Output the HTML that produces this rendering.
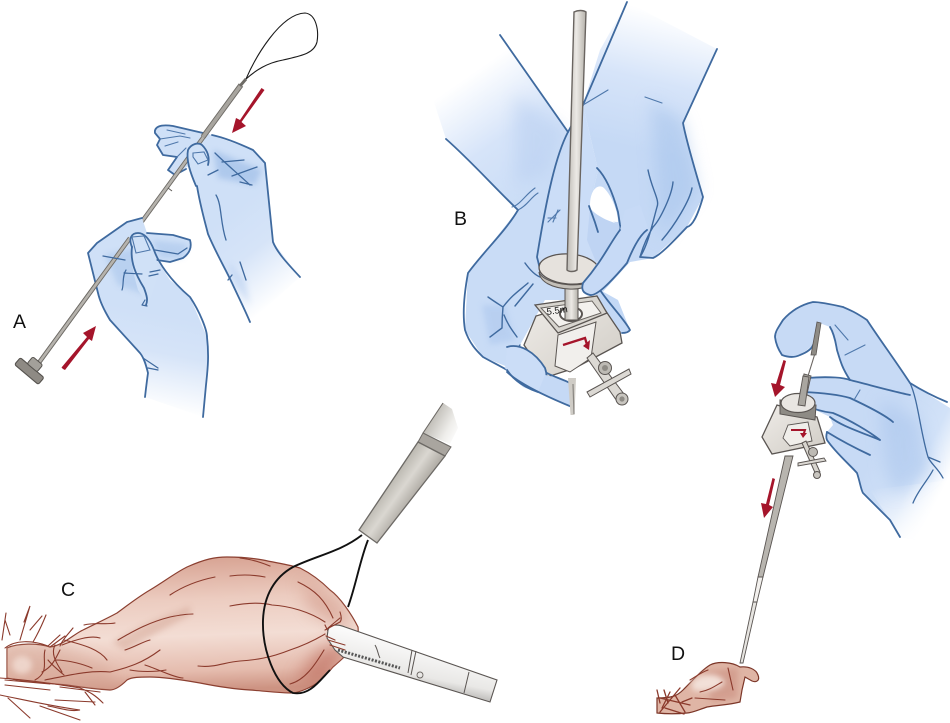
<!DOCTYPE html>
<html><head><meta charset="utf-8"><style>
html,body{margin:0;padding:0;background:#fff;width:950px;height:723px;overflow:hidden}
svg{display:block}
text{font-family:"Liberation Sans",sans-serif;font-size:19.5px;fill:#111}
.h{stroke:#3f6a9f;stroke-width:1.8;fill:none;stroke-linecap:round;stroke-linejoin:round}
.t{stroke:#4f78ab;stroke-width:1.1;fill:none;stroke-linecap:round}
.v{stroke:#8b3a2c;stroke-width:1.1;fill:none;stroke-linecap:round}
.w{stroke:#111;stroke-width:1.9;fill:none}
</style></head><body>
<svg width="950" height="723" viewBox="0 0 950 723" xmlns="http://www.w3.org/2000/svg">
<defs>
<filter id="b3" x="-30%" y="-30%" width="160%" height="160%"><feGaussianBlur stdDeviation="3"/></filter>
<filter id="b8" x="-40%" y="-40%" width="180%" height="180%"><feGaussianBlur stdDeviation="8"/></filter>
<linearGradient id="ga1" gradientUnits="userSpaceOnUse" x1="215" y1="225" x2="275" y2="302"><stop offset="0" stop-color="#cfe0f7"/><stop offset=".45" stop-color="#d6e4f8"/><stop offset="1" stop-color="#fff"/></linearGradient>
<linearGradient id="ga2" gradientUnits="userSpaceOnUse" x1="190" y1="320" x2="172" y2="412"><stop offset="0" stop-color="#cfe0f7"/><stop offset=".4" stop-color="#d6e4f8"/><stop offset="1" stop-color="#fff"/></linearGradient>
<linearGradient id="gb1" gradientUnits="userSpaceOnUse" x1="550" y1="190" x2="470" y2="75"><stop offset="0" stop-color="#c9dcf6"/><stop offset=".5" stop-color="#d6e4f9"/><stop offset="1" stop-color="#fff"/></linearGradient>
<linearGradient id="gb2" gradientUnits="userSpaceOnUse" x1="640" y1="150" x2="672" y2="15"><stop offset="0" stop-color="#c5d9f5"/><stop offset=".5" stop-color="#d6e4f9"/><stop offset="1" stop-color="#fff"/></linearGradient>
<linearGradient id="gd" gradientUnits="userSpaceOnUse" x1="880" y1="440" x2="950" y2="475"><stop offset="0" stop-color="#c7daf5"/><stop offset=".6" stop-color="#d2e2f8"/><stop offset="1" stop-color="#fff"/></linearGradient>
<linearGradient id="gd2" gradientUnits="userSpaceOnUse" x1="890" y1="480" x2="920" y2="540"><stop offset="0" stop-color="#fff" stop-opacity="0"/><stop offset="1" stop-color="#fff"/></linearGradient>
<linearGradient id="gc" gradientUnits="userSpaceOnUse" x1="200" y1="560" x2="205" y2="690"><stop offset="0" stop-color="#d9a696"/><stop offset=".3" stop-color="#ecccc0"/><stop offset=".58" stop-color="#f3ddd4"/><stop offset=".85" stop-color="#e5bcae"/><stop offset="1" stop-color="#cd9382"/></linearGradient>
<linearGradient id="gi" gradientUnits="userSpaceOnUse" x1="380" y1="490" x2="408" y2="510"><stop offset="0" stop-color="#b4b1a9"/><stop offset=".5" stop-color="#dad7d1"/><stop offset="1" stop-color="#aaa69f"/></linearGradient>
<linearGradient id="gi2" gradientUnits="userSpaceOnUse" x1="425" y1="420" x2="458" y2="438"><stop offset="0" stop-color="#b4b1aa"/><stop offset=".65" stop-color="#eeedea"/><stop offset="1" stop-color="#fff"/></linearGradient>
<linearGradient id="gm" x1="0" y1="0" x2="1" y2="0"><stop offset="0" stop-color="#bdbab4"/><stop offset=".5" stop-color="#ece9e5"/><stop offset="1" stop-color="#b5b2ab"/></linearGradient>
<linearGradient id="gg" gradientUnits="userSpaceOnUse" x1="410" y1="640" x2="400" y2="690"><stop offset="0" stop-color="#fcfcfc"/><stop offset=".65" stop-color="#e9e8e6"/><stop offset="1" stop-color="#a9a7a4"/></linearGradient>
<linearGradient id="gbox" x1="0" y1="0" x2="1" y2="1"><stop offset="0" stop-color="#efecE8"/><stop offset="1" stop-color="#d0ccc5"/></linearGradient>
<clipPath id="cc"><path d="M7 648C18 643 38 643 50 647C62 646 74 634 83 630C95 624 108 618 117 613C128 605 138 597 150 590C165 581 175 573 187 567C205 559 215 557 227 557C240 557 252 558 263 560C277 563 290 565 300 568C312 574 322 582 330 590C340 597 352 615 358 627C359 636 356 642 353 647C347 655 340 661 333 667C328 673 322 679 317 683C310 688 300 692 293 693C278 693 265 691 250 690C232 689 215 686 200 683C183 680 165 677 150 677C140 677 132 677 127 680C122 685 116 690 110 690C95 689 80 687 67 685C55 684 45 683 33 682C25 681 15 680 7 678Z"/></clipPath>
<clipPath id="ca1"><path d="M273 242L265 163 253 150 203 133 195 150 197 187 207 233 230 280 273 260Z"/></clipPath>
<clipPath id="ca2"><path d="M110 320L98 293 88 253 97 243 127 222 142 218 157 260 170 280 150 310Z"/></clipPath>
</defs>
<rect width="950" height="723" fill="#fff"/>

<!-- PANEL A : upper hand -->
<path d="M300 277L273 242 265 163 253 150 203 132 173 126C160 124 154 127 155 133L160 139 157 145 163 155 177 157 168 170 175 175 190 165 197 187 207 233 230 280 250 322Z" fill="url(#ga1)"/>
<g clip-path="url(#ca1)"><path d="M213 150L262 170 255 185 218 178Z" fill="#94b6e4" opacity=".55" filter="url(#b3)"/></g>
<path d="M228 262L245 280 250 305 235 285Z" fill="#a8c4ec" opacity=".4" filter="url(#b3)"/>
<path class="h" d="M300 277C286 262 277 252 273 242L265 163 253 150C240 144 226 138 212 135"/>
<path class="h" d="M203 133L173 126C160 124 154 127 155 133L160 139 157 145 163 155 177 157 168 170 175 175 186 169"/>
<path class="t" d="M160 139L180 136 190 138M167 130L185 134M165 146L178 142M177 157L186 148"/>
<!-- rod A -->
<path d="M38 364L205 135" stroke="#6e6b66" stroke-width="4.400" fill="none"/>
<path d="M38 364L205 135" stroke="#b6b3ad" stroke-width="2.600" fill="none"/>
<path d="M203 137L241 85" stroke="#6e6b66" stroke-width="5.400" fill="none"/>
<path d="M203 137L241 85" stroke="#a8a59f" stroke-width="3.600" fill="none"/>
<path d="M240 86L246 79" stroke="#6e6b66" stroke-width="3" fill="none"/>
<path d="M168 188L172 191" stroke="#5e5b57" stroke-width="1"/>
<!-- upper thumb -->
<path d="M197 187C190 172 186 160 188 150 191 144 198 142 202 145 207 150 210 157 208 165L198 186Z" fill="#d0e1f7"/>
<path class="h" d="M196 186C190 172 186 160 188 150 191 144 198 142 202 145 207 150 210 157 208 165"/>
<path class="h" d="M197 186C200 205 205 222 208 234 216 253 225 268 232 283 238 296 245 310 250 322"/>
<path class="t" d="M193 153L204 152 208 160 198 164 193 157Z"/>
<path class="h" d="M215 153C225 163 236 172 250 185M222 162L244 160M232 176L257 167M240 182L252 185M216 195C222 205 220 222 226 240M232 275L228 280M240 262L246 280M208 175L218 170" style="stroke-width:1.300"/>
<!-- lower hand -->
<path d="M145 397L148 373 140 353 110 320 98 293 88 253 97 243 127 222 142 218 147 233 173 235 190 240C191 245 190 252 183 258L170 262 157 260 170 280 190 297 207 337 208 367 203 417Z" fill="url(#ga2)"/>
<g clip-path="url(#ca2)"><path d="M105 255L135 248 146 295 118 285Z" fill="#a3c1e9" opacity=".5" filter="url(#b3)"/></g>
<path d="M152 240L188 244 182 258 160 258Z" fill="#a3c1e9" opacity=".5" filter="url(#b3)"/>
<path class="h" d="M145 397C146 388 147 380 148 373 146 365 144 358 140 353L110 320C104 310 100 302 98 293L88 253 97 243 127 222 142 218"/>
<path class="h" d="M147 233L173 235 190 240C192 247 190 253 183 258L170 262 157 260"/>
<path class="h" d="M155 250L178 254 187 248" style="stroke-width:1.300"/>
<path d="M38 364L130 238" stroke="#6e6b66" stroke-width="4.400" fill="none"/>
<path d="M38 364L130 238" stroke="#b6b3ad" stroke-width="2.600" fill="none"/>
<path d="M132 247C128 238 132 233 138 233 145 233 150 240 154 250 160 268 158 280 148 305L138 290C134 275 130 262 132 247Z" fill="#d0e1f7"/>
<path class="h" d="M132 247C128 238 132 233 138 233 145 233 150 240 154 250 158 262 170 280 190 297 200 312 207 330 207 337 209 355 208 367 206 385L203 417"/>
<path class="h" d="M132 247C130 262 136 275 144 288 147 296 148 300 146 305"/>
<path class="t" d="M132 237L144 236 150 250 136 253Z"/>
<path class="h" d="M103 256L125 260M126 270C122 276 124 285 122 290M124 273L142 274M150 272L160 270M149 276L158 274M145 300L142 305 147 306M143 358L158 368M148 368L158 370" style="stroke-width:1.200"/>
<rect x="14" y="367" width="31" height="9" rx="2" fill="#8e8a84" stroke="#55524e" stroke-width="1.100" transform="rotate(40 30 371)"/>
<rect x="28" y="360" width="13" height="9" rx="2" fill="#a3a09a" stroke="#55524e" stroke-width="1" transform="rotate(40 35 365)"/>
<path d="M246 79C255 58 280 14 305 13 316 14 319 30 317 42 314 54 300 56 283 60 267 63 256 70 246 79Z" fill="none" stroke="#1a1a1a" stroke-width="1.100"/>
<!-- arrows -->
<g fill="#a5152b" stroke="none">
<path d="M263 89L264.500 90 241.500 122 246 126 232 133 236 118 240 120 261.500 88Z"/>
<path d="M63 369L61.500 367.500 87 337 83 333 96 326 92 341 89 339 65 370Z"/>
<path d="M601 108H598.500V140L594 140 600 159 606 140 601 140Z"/>
<path d="M786 361L783.500 360 776 384 771 383 775 397 785 387 780 385Z"/>
<path d="M775 479L772.500 478 766 504 761 503 764 518 773 507 769 505Z"/>
</g>
<text x="13" y="328">A</text>

<!-- PANEL B -->
<path d="M500 35L568 132 583 105 598 170 590 205 600 260 570 300 540 300 520 345 507 372 523 387 572 407 572 383 540 380 483 357 465 330 468 273 518 210 446 139 430 90 470 70Z" fill="url(#gb1)"/>
<path d="M627 2L717 49 683 123 703 197 687 227 653 258 630 262 600 295 583 293 583 283 608 253 618 225 590 205 598 170 583 105 600 50Z" fill="url(#gb2)"/>
<path d="M568 132L583 105 597 168 590 200 590 215 604 240 585 282 540 276 537 257 552 180Z" fill="#cbddf7"/>
<path d="M468 273L518 210 540 250 545 300 520 345 483 357 465 330Z" fill="#c9dcf6"/>
<path d="M590 208C596 216 610 222 619 224L628 232 610 255 596 262 587 240Z" fill="#bfd4f3"/>
<path d="M590 205C590 190 598 183 604 188 612 196 618 212 618 222 605 222 596 214 590 205Z" fill="#fff"/>
<path d="M600 290L618 300 630 330 620 334 604 320 592 300Z" fill="#c3d8f5"/>
<path d="M515 95L566 130 548 175 515 185Z" fill="#b3cbef" opacity=".45" filter="url(#b8)"/>
<path d="M650 100L683 120 698 190 660 240 655 160Z" fill="#a3c1ea" opacity=".5" filter="url(#b8)"/>
<path d="M482 305L505 305 515 340 490 345Z" fill="#a8c4ec" opacity=".5" filter="url(#b3)"/>
<path class="h" d="M500 35L568 132"/>
<path class="h" d="M446 139C470 160 495 188 518 210"/>
<path class="h" d="M627 2L583 105"/>
<path class="h" d="M717 49L683 123C686 140 695 170 703 197 697 218 692 226 687 227 670 245 660 255 653 258L640 257"/>
<path class="h" d="M518 210C505 232 485 250 468 273 463 300 463 318 465 330 470 345 478 352 483 357 492 362 500 366 507 370"/>
<path class="h" d="M568 132C556 155 547 195 537 257 539 265 540 268 540 272"/>
<path class="h" d="M583 105C575 118 572 125 568 132"/>
<path class="t" d="M583 105L608 90M645 97L662 103M535 188C525 195 520 205 512 207M538 193C530 198 528 205 518 210M558 210L553 222M556 218L548 218"/>
<path class="h" d="M590 205C590 190 598 183 604 188 612 196 618 212 618 222 605 222 596 214 590 205Z" style="stroke:none"/>
<path class="h" d="M597 168C605 176 612 190 618 212L620 225C621 228 620 230 620 230M589 206C591 212 594 218 598 232M628 228L620 230"/>
<path class="h" d="M648 170C652 190 660 200 657 207 652 225 648 245 640 257M673 182C672 195 660 220 653 227 645 240 642 250 640 257M692 188C690 200 675 225 662 240" style="stroke-width:1.400"/>
<path class="h" d="M600 290C610 305 625 320 630 330 628 333 624 333 622 333" />
<path class="h" d="M488 297C495 302 500 305 503 307 512 295 520 290 528 283M503 307C502 318 502 325 502 328 495 333 493 335 490 337M504 315C508 325 512 330 517 337M533 284L515 306M525 263C530 270 535 275 540 277M520 345L512 355" style="stroke-width:1.400"/>
<path class="t" d="M560 210L548 222"/>
<!-- device B -->
<path d="M524 345L536 316 597 298 620 332 622 343 575 368 544 378 540 368Z" fill="url(#gbox)" stroke="#5a5552" stroke-width="1.300"/>
<path d="M558 335L596 322 591 358 570 372 555 366Z" fill="#f1efec" stroke="#5a5552" stroke-width="1"/>
<path d="M535 305L597 296 607 313 558 333Z" fill="#d8d5cf" stroke="#5a5552" stroke-width="1.300"/>
<path d="M541 308L592 301 601 313 559 327Z" fill="#f3f1ee" stroke="#6a6561" stroke-width="1"/>
<ellipse cx="571" cy="314" rx="11" ry="7" fill="#fff" stroke="#5a5552" stroke-width="2"/>
<path d="M565 288H578V320H565Z" fill="url(#gm)" stroke="#5a5552" stroke-width="1"/>
<text x="547" y="315" style="font-size:9.500px" transform="rotate(-8 547 315)">5.5m</text>
<path d="M563 345L585 338 588 348" fill="none" stroke="#a5152b" stroke-width="2.300"/><path d="M583 346L590 340 589 350Z" fill="#a5152b"/>
<ellipse cx="569" cy="269" rx="30" ry="15" fill="#e6e2dd" stroke="#5a5552" stroke-width="1.300" transform="rotate(4 569 269)"/>
<path d="M539 272C543 285 590 292 600 274C600 282 585 290 569 289 552 288 540 282 539 272Z" fill="#c3bfb8" stroke="#5a5552" stroke-width="1"/>
<path d="M574 12C578 10 583 10 586 12L577 270C574 272 569 272 567 270Z" fill="url(#gm)" stroke="#6a6561" stroke-width="1.400"/>
<!-- finger tip over disk -->
<path d="M620 230L583 283C581 290 583 295 590 296 597 297 610 283 630 257L648 228 640 205 625 210Z" fill="#c7daf6"/>
<path class="h" d="M620 230C610 243 603 260 583 283 581 290 583 293 590 295 597 296 610 283 627 263 633 248 640 235 647 230"/>
<!-- thumb over box B -->
<path d="M507 347C520 343 535 352 545 368 549 380 545 392 538 392 522 388 512 380 505 368Z" fill="#cbddf7"/>
<path class="h" d="M507 347C520 343 535 352 545 368 549 380 545 392 538 392 526 388 515 382 507 370"/>
<path d="M507 372C520 384 545 396 572 407 573 396 573 388 570 383 560 379 552 376 545 375L538 392Z" fill="#c5d9f5"/>
<path class="h" d="M507 372C520 384 545 396 572 407 573 396 573 388 570 383 562 379 552 376 547 373"/>
<path d="M568 378H576L574.500 415H570.500Z" fill="#cfccc6"/>
<path d="M573 384L574 414" stroke="#8a8782" stroke-width="1.200"/>
<!-- stopcock B -->
<path d="M587 358L593 353 627 398 619 404Z" fill="#dcd9d4" stroke="#5a5552" stroke-width="1"/>
<path d="M587 392L629 369 631 374 590 397Z" fill="#dcd9d4" stroke="#5a5552" stroke-width="1"/>
<circle cx="605" cy="368" r="6.500" fill="#bdbab4" stroke="#5a5552"/><circle cx="605" cy="368" r="3" fill="#8e8b85"/>
<circle cx="622" cy="399" r="6" fill="#c8c5bf" stroke="#5a5552"/><circle cx="622" cy="399" r="2.600" fill="#8e8b85"/>
<text x="454" y="225">B</text>

<!-- PANEL C -->
<path d="M423 433L443 403 452 409 458 428 450 444Z" fill="url(#gi2)"/>
<path d="M423 433L443 403" stroke="#6d6a66" stroke-width="1.100" fill="none"/>
<path d="M423 433L451 447 445 456 418 442Z" fill="#a9a59f" stroke="#6d6a66"/>
<path d="M359 530L418 442 445 456 377 543Z" fill="url(#gi)" stroke="#6d6a66" stroke-width="1.300"/>
<path d="M7 648C18 643 38 643 50 647C62 646 74 634 83 630C95 624 108 618 117 613C128 605 138 597 150 590C165 581 175 573 187 567C205 559 215 557 227 557C240 557 252 558 263 560C277 563 290 565 300 568C312 574 322 582 330 590C340 597 352 615 358 627C359 636 356 642 353 647C347 655 340 661 333 667C328 673 322 679 317 683C310 688 300 692 293 693C278 693 265 691 250 690C232 689 215 686 200 683C183 680 165 677 150 677C140 677 132 677 127 680C122 685 116 690 110 690C95 689 80 687 67 685C55 684 45 683 33 682C25 681 15 680 7 678Z" fill="url(#gc)" stroke="#8b3f30" stroke-width="1.200"/>
<g clip-path="url(#cc)">
<path d="M300 578L345 605 350 635 310 610Z" fill="#cf9382" opacity=".55" filter="url(#b8)"/>
<path d="M318 650L355 640 325 685 295 680Z" fill="#bf6f60" opacity=".7" filter="url(#b8)"/>
<path d="M112 642L150 622 190 606 190 615 125 650Z" fill="#d0a08f" opacity=".45" filter="url(#b3)"/>
<path d="M0 640L60 645 115 670 110 692 0 685Z" fill="#cf9c8a" opacity=".45" filter="url(#b8)"/>
<ellipse cx="22" cy="665" rx="10" ry="9" fill="#f2ddd4" opacity=".8" filter="url(#b3)"/>
</g>
<g class="v">
<path d="M170 595C185 585 200 580 215 577M230 576C245 574 255 575 265 577M240 558C255 560 262 563 270 566M298 582C315 590 325 600 333 618"/>
<path d="M230 606C245 603 260 602 272 605 290 606 310 612 325 622"/>
<path d="M118 640C135 630 150 622 170 617 180 615 188 614 193 614"/>
<path d="M198 666C215 668 225 662 240 661 255 660 270 658 290 650 305 645 315 640 325 634"/>
<path d="M290 684C305 680 315 665 324 650M340 622C342 620 341 615 340 612M325 625C328 632 330 633 332 640"/>
<path d="M125 650C135 647 142 642 150 640"/>
<path d="M60 646C62 640 70 632 73 628M50 647L65 636M84 625C95 622 105 625 115 623M62 645C75 640 90 635 100 638M64 640C85 645 100 650 107 660M55 660C70 660 85 665 92 668M45 680C70 675 90 670 110 672 125 668 140 665 160 650M130 670C140 672 155 672 166 670M145 665C155 668 175 678 183 678"/>
<path d="M45 650C42 660 50 672 35 680M55 645C50 655 58 665 62 672M48 660C52 665 58 670 64 675M60 650C55 660 52 667 42 672"/>
<path d="M5 648C15 640 32 640 48 646L60 635M10 635L5 620M20 640L30 606 24 622M33 642C40 630 44 620 46 615M30 630L42 616M6 613L2 640"/>
<path d="M0 678C30 680 55 684 80 688 90 692 95 695 103 703M60 687L100 692M0 695C25 700 50 706 80 710 70 712 60 708 48 706M8 698L30 718M40 706L80 720M55 700L95 702M85 692L95 705"/>
<path d="M5 680L50 684M5 685L50 690"/>
</g>
<!-- grasper C -->
<path d="M328 630C330 624 338 624 345 627L497 680 490 702 343 657 335 650 327 638Z" fill="url(#gg)" stroke="#5a5552" stroke-width="1.100"/>
<path d="M338 650L400 668" stroke="#555" stroke-width="3" stroke-dasharray="2 1.500"/>
<path d="M412 650L408 673M416 651L411 675M469 672L464 693M375 645C378 650 378 655 380 658" stroke="#5a5552" stroke-width="1" fill="none"/>
<circle cx="420" cy="675" r="3" fill="none" stroke="#6a6561" stroke-width=".9"/>
<path class="v" d="M328 628L340 618M325 630L340 622M326 636L335 640M330 645L345 650M328 640L345 645"/>
<path class="w" d="M362 535C340 552 318 555 293 567 275 577 264 595 263 620 262 650 275 684 293 693 310 696 320 680 330 670"/>
<path class="w" d="M368 540C360 560 356 585 348 607"/>
<text x="61" y="596">C</text>

<!-- PANEL D -->
<path d="M950 408L910 383 867 320 843 307 813 302C800 305 788 312 783 320L775 337C775 345 778 352 782 355 790 358 800 357 813 345L817 322 830 327 837 350 842 368 850 380 817 377 807 378 802 387 802 397 805 405 830 417 833 425 827 432 827 440 857 473 863 493 890 520 900 537 950 545Z" fill="url(#gd)"/>
<path d="M870 490L890 520 900 537 950 545 950 480Z" fill="url(#gd2)"/>
<path d="M880 400L920 420 930 470 895 495 885 470Z" fill="#a8c4ec" opacity=".55" filter="url(#b8)"/>
<path class="h" d="M947 402C930 395 918 388 910 383 895 360 880 340 867 320 855 312 850 310 843 307 830 304 820 302 813 302 800 305 790 312 783 320 778 328 775 332 775 337 776 345 780 352 782 355 790 358 796 357 800 355 808 352 812 348 813 345"/>
<path class="h" d="M830 327C835 335 836 345 837 350 840 360 842 368 850 380"/>
<path class="h" d="M807 378C830 376 845 378 850 380 870 385 895 392 910 395M803 392C825 393 840 395 850 398 865 405 885 415 893 422M805 405C815 410 825 412 833 413 850 420 870 432 880 440M830 417C840 425 855 430 880 440M827 432C840 440 855 448 870 455"/>
<path class="h" d="M807 378C802 380 802 386 802 389 802 393 802 396 803 398 804 404 806 405 808 406M827 432C826 436 826 438 827 440 835 452 850 465 857 473 860 482 861 490 863 493 875 505 885 515 890 520L900 537"/>
<path class="h" d="M910 383C918 400 920 430 928 457 930 463 938 468 943 478M928 457L940 462M913 503C918 490 928 480 933 470" style="stroke-width:1.300"/>
<path class="t" d="M835 325L848 340M845 355L865 345M860 390L854 400"/>
<!-- rod D -->
<path d="M811 355L817 322 821 323 816 355Z" fill="#8e8b85" stroke="#5a5552" stroke-width=".8"/>
<path d="M808 376L814.500 355" stroke="#6a6561" stroke-width="1.100"/>
<path d="M798 403L804 374 811 376 805 403Z" fill="#a9a6a0" stroke="#5a5552" stroke-width=".9"/>
<path d="M785 456L793 456 763 577 758 577Z" fill="#b8b5af" stroke="#5a5552" stroke-width=".9"/>
<path d="M758 577L763 577 757 602 753 602Z" fill="#f2f0ed" stroke="#5a5552" stroke-width=".9"/>
<path d="M753 602L757 602 743 663 740 663Z" fill="#e6e4e0" stroke="#5a5552" stroke-width=".9"/>
<!-- box D -->
<path d="M762 437L777 405 817 417 825 443 772 454Z" fill="url(#gbox)" stroke="#5a5552" stroke-width="1.300"/>
<path d="M783 438L788 425 808 422 812 441 790 446Z" fill="#f0eeea" stroke="#5a5552" stroke-width=".9"/>
<path d="M780 400L780 414 815 420 816 405Z" fill="#8e8b85" stroke="#5a5552" stroke-width="1"/>
<ellipse cx="798" cy="403" rx="17" ry="9.500" fill="#e9e6e2" stroke="#5a5552" stroke-width="1.200"/>
<path d="M798 405L803 376 809 377 805 406Z" fill="#a9a6a0" stroke="#5a5552" stroke-width=".9"/>
<path d="M791 430H805L803 436" fill="none" stroke="#a5152b" stroke-width="2"/>
<path d="M800 433H807L803 438Z" fill="#a5152b"/>
<path d="M802 443L806 441 820 472 816 475Z" fill="#d8d5cf" stroke="#5a5552"/>
<path d="M798 463L824 458 826 461 798 466Z" fill="#dcd9d4" stroke="#5a5552" stroke-width=".9"/>
<circle cx="813" cy="452" r="4.500" fill="#bdbab4" stroke="#5a5552"/>
<circle cx="817" cy="475" r="3.500" fill="#c8c5bf" stroke="#5a5552"/>
<!-- organ D -->
<path d="M657 698C672 698 677 696 683 690 695 678 702 670 710 665 718 661 732 662 740 667 748 666 756 669 758 675 760 680 757 683 752 681L745 677 742 690 740 702C728 705 718 705 707 707 698 710 692 713 687 713 677 714 667 714 657 713Z" fill="#dfb5a5" stroke="#7b3527" stroke-width="1.200"/>
<path d="M703 672L738 668 737 698 712 702Z" fill="#c7887a" opacity=".5" filter="url(#b3)"/>
<path d="M692 682C702 672 718 672 725 682 720 692 702 692 692 690Z" fill="#f2e0d8" filter="url(#b3)"/>
<path class="v" d="M690 680C698 675 702 672 708 670M700 692C710 690 715 686 722 682M728 668L733 690M695 698L725 700"/>
<path class="v" d="M657 690L660 703M664 690L668 703M670 692L662 708M680 688L660 712M675 695L685 712M665 708L684 714M660 698L690 705M682 702L692 698" style="stroke-width:1.300"/>
<text x="671" y="660">D</text>
</svg>
</body></html>
